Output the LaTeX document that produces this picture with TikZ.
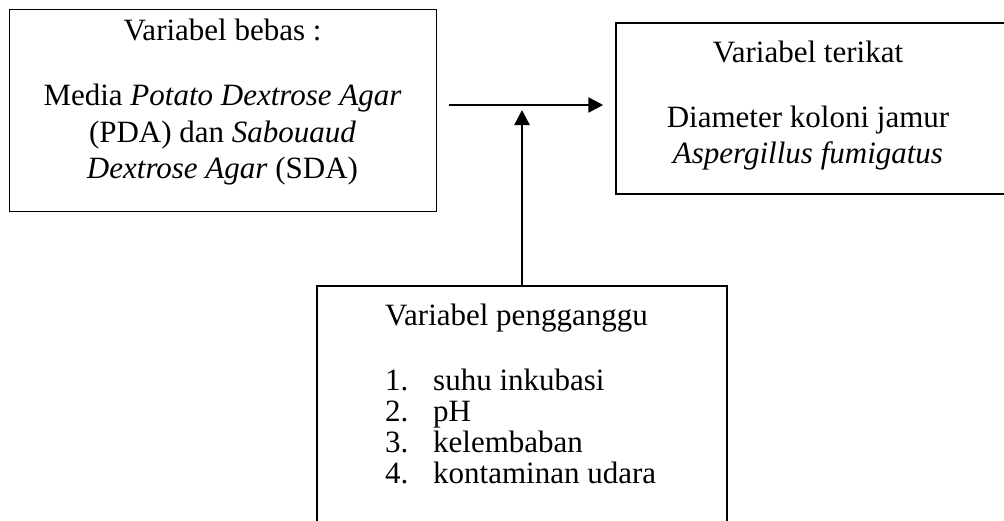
\documentclass[tikz,border=0pt]{standalone}
\usepackage{fontspec}
\setmainfont{Liberation Serif}
\usetikzlibrary{arrows.meta}
\tikzset{
  varbox/.style={draw=black, line width=1.5pt, rectangle, inner sep=0pt},
  varline/.style={anchor=base, inner sep=0pt, font=\fontsize{31}{36}\selectfont},
  link/.style={line width=2.5pt, -{Triangle[length=15pt,width=15pt]}}
}
\begin{document}
\begin{tikzpicture}[x=1pt,y=-1pt]
\useasboundingbox (0,0) rectangle (1004,520);
% the three boxes
\node[varbox, line width=1pt, minimum width=427pt, minimum height=202pt] (bebas) at (222.5,110) {};
\node[varbox, minimum width=394pt, minimum height=171pt] (terikat) at (813,108.5) {};
\node[varbox, minimum width=410pt, minimum height=250pt] (pengganggu) at (522,411) {};
% variabel bebas
\node[varline] (bebas-title) at (222.5,40) {Variabel bebas :};
\node[varline] (bebas-a) at (222.5,105) {Media \textit{Potato Dextrose Agar}};
\node[varline] (bebas-b) at (222.5,142) {(PDA) dan \textit{Sabouaud}};
\node[varline] (bebas-c) at (222.5,178) {\textit{Dextrose Agar} (SDA)};
% variabel terikat
\node[varline] (terikat-title) at (808,62) {Variabel terikat};
\node[varline] (terikat-a) at (808,127) {Diameter koloni jamur};
\node[varline] (terikat-b) at (808,163) {\textit{Aspergillus fumigatus}};
% variabel pengganggu
\node[varline, anchor=base west] (pengganggu-title) at (385,325) {Variabel pengganggu};
\foreach \txt [count=\n] in {suhu inkubasi, pH, kelembaban, kontaminan udara}
{
  \node[varline, anchor=base west] (num-\n) at (385,359+31*\n) {\n.};
  \node[varline, anchor=base west] (item-\n) at (433,359+31*\n) {\txt};
}
% arrows
\coordinate (hub) at (522,105);
\draw[link, shorten <=12pt, shorten >=12pt] (bebas.east |- hub) -- (terikat.west |- hub);
\draw[link, shorten >=5pt] (pengganggu.north) -- (hub);
\end{tikzpicture}
\end{document}
